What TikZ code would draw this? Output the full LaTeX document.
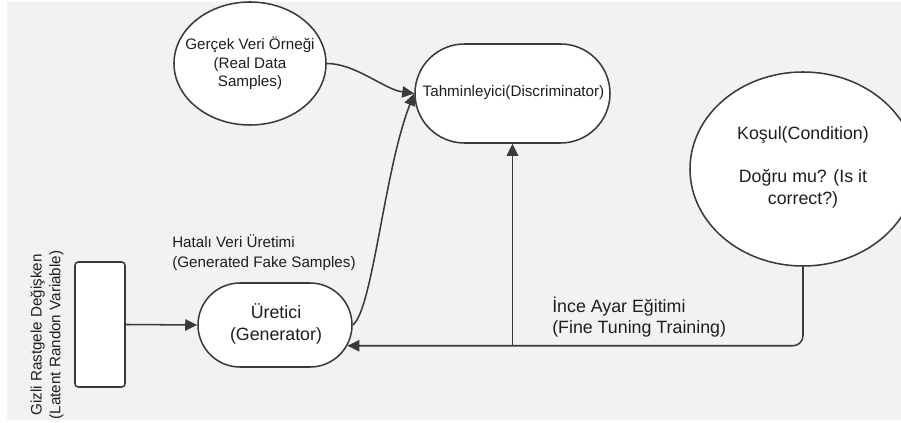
\documentclass[tikz,border=0pt]{standalone}
\usepackage{fontspec}
\setmainfont{Liberation Sans}
\usetikzlibrary{arrows.meta,shapes.misc,shapes.geometric}
\definecolor{bgc}{HTML}{F1F2F4}
\definecolor{linec}{HTML}{3A3A3A}
\definecolor{txtc}{HTML}{1E1E1E}
\tikzset{
  shapeline/.style={draw=linec, line width=1.15pt, fill=white, inner sep=0pt},
  stadium/.style={shapeline, rounded rectangle},
  oval/.style={shapeline, ellipse},
  boxshape/.style={shapeline, rectangle, rounded corners=2.5pt},
  smalltxt/.style={text=txtc, inner sep=0pt, font=\fontsize{11.4}{14}\selectfont},
  bigtxt/.style={text=txtc, inner sep=0pt, font=\fontsize{13.35}{16.3}\selectfont},
  conn/.style={draw=linec, line width=1.15pt, -{Triangle[length=9pt,width=8.5pt]}},
  plainconn/.style={draw=linec, line width=1.15pt}
}
\begin{document}
\begin{tikzpicture}[x=0.75pt,y=-0.75pt]
\useasboundingbox (0,0) rectangle (901,423);
\fill[white] (0,0) rectangle (901,423);
\fill[bgc] (7,2) rectangle (901,420);

% shapes
\node[oval, minimum width=114pt, minimum height=92.25pt] (real) at (250,63.5) {};
\node[stadium, minimum width=146.25pt, minimum height=74.25pt] (disc) at (512.5,93.5) {};
\node[oval, minimum width=169.5pt, minimum height=145.5pt] (cond) at (803,169) {};
\node[stadium, minimum width=115.5pt, minimum height=63pt] (gen) at (275,325) {};
\node[boxshape, minimum width=37.5pt, minimum height=93.75pt] (lat) at (100,324.5) {};

% texts
\node[smalltxt, align=center] (realt) at (250,63.5) {Gerçek Veri Örneği\\(Real Data\\Samples)};
\node[smalltxt] (disct) at (513.5,93) {Tahminleyici(Discriminator)};
\node[bigtxt, align=center] (condt) at (803,167.5) {Koşul(Condition)\\[16.3pt]Doğru mu? (Is it\\correct?)};
\node[bigtxt, align=center] (gent) at (276,324) {Üretici\\(Generator)};
\node[smalltxt, align=center, rotate=90] (latt) at (47,335) {Gizli Rastgele Değişken\\(Latent Randon Variable)};
\node[smalltxt, align=left, anchor=west] (fakel) at (172,253) {Hatalı Veri Üretimi\\[1pt](Generated Fake Samples)};
\node[bigtxt, align=left, anchor=west] (finel) at (552,317) {İnce Ayar Eğitimi\\(Fine Tuning Training)};

% connectors
\draw[conn] (lat.east) -- (gen.west);
\draw[conn] (real.east) .. controls +(29,0) and +(-30,-4) .. (disc.west);
\draw[conn] (gen.east) .. controls +(20,-15) and +(-30,76) .. (disc.west);
\draw[conn, rounded corners=7.5pt] (cond.south) |- (gen.-16.5);
\coordinate (junc) at (disc.south |- gen.-16.5);
\draw[conn] (junc) -- (disc.south);
\end{tikzpicture}
\end{document}
